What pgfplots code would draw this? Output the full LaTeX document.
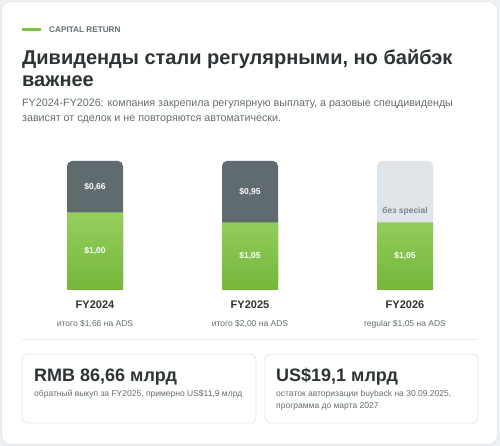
\documentclass[border=0pt]{standalone}
\usepackage{pgfplots}
\pgfplotsset{compat=1.18}
\usepackage{pgfplotstable}
\usepackage{fontspec}
\setmainfont{Liberation Sans}
\definecolor{pagebg}{HTML}{EEF1F3}
\definecolor{cardborder}{HTML}{E3E7EA}
\definecolor{titlec}{HTML}{2D3436}
\definecolor{subc}{HTML}{636E72}
\definecolor{accent}{HTML}{7DC242}
\definecolor{gtop}{HTML}{95D05E}
\definecolor{gbot}{HTML}{76B63A}
\definecolor{darkbar}{HTML}{5F6B6F}
\definecolor{lightbar}{HTML}{DFE5E9}
\definecolor{lighttext}{HTML}{7B858A}
\definecolor{sepc}{HTML}{EAEDEF}

\pgfplotstableread[col sep=semicolon]{
x;reg;spec;scale;reglab;speclab
0;1.00;0.66;1.66;\$1,00;\$0,66
1;1.05;0.95;2.00;\$1,05;\$0,95
2;1.05;0.95;2.00;\$1,05;-
}\divdata

\begin{document}
\begin{tikzpicture}[x=1pt,y=1pt]
\fill[pagebg] (0,0) rectangle (500,446);
\filldraw[fill=white, draw=cardborder, line width=0.8pt, rounded corners=9pt] (1.5,1.5) rectangle (497.5,444.5);
\draw[accent, line width=2.2pt] (22,416.5) -- (41,416.5);
\node[anchor=west, inner sep=0pt, text=subc, font=\fontsize{8.2}{10}\selectfont\bfseries] at (49,416.5) {CAPITAL RETURN};
\node[anchor=base west, inner sep=0pt, align=left, text=titlec, font=\fontsize{20}{22}\selectfont\bfseries] at (22,359)
  {Дивиденды стали регулярными, но байбэк\\важнее};
\node[anchor=base west, inner sep=0pt, align=left, text=subc, font=\fontsize{10.7}{15}\selectfont] at (22,324)
  {FY2024-FY2026: компания закрепила регулярную выплату, а разовые спецдивиденды\\зависят от сделок и не повторяются автоматически.};

\begin{axis}[
  at={(17.5pt,156pt)}, anchor=south west,
  scale only axis, width=465pt, height=129pt,
  xmin=-0.5, xmax=2.5, ymin=0, ymax=100,
  axis line style={draw=none}, major tick length=0pt,
  ytick=\empty, xtick={0,1,2},
  xticklabels={
    {FY2024\\[5pt]{\mdseries\fontsize{8.5}{10}\selectfont\color{subc}итого \$1,66 на ADS}},
    {FY2025\\[5pt]{\mdseries\fontsize{8.5}{10}\selectfont\color{subc}итого \$2,00 на ADS}},
    {FY2026\\[5pt]{\mdseries\fontsize{8.5}{10}\selectfont\color{subc}regular \$1,05 на ADS}}},
  xticklabel style={align=center, anchor=north, yshift=-10.5pt, inner sep=0pt,
    font=\fontsize{11}{13}\selectfont\bfseries, text=titlec},
  clip=false,
  bar width=56pt,
]
% full bars (regular + special share)
\addplot[ybar, bar shift=0pt, fill=darkbar, draw=none, rounded corners=5pt,
  restrict x to domain=0:1]
  table[x=x, y expr=(\thisrow{reg}+\thisrow{spec})/\thisrow{scale}*100]{\divdata};
\addplot[ybar, bar shift=0pt, fill=lightbar, draw=none, rounded corners=5pt,
  restrict x to domain=2:2]
  table[x=x, y expr=(\thisrow{reg}+\thisrow{spec})/\thisrow{scale}*100]{\divdata};
% regular dividend share
\addplot[ybar, bar shift=0pt, draw=none, top color=gtop, bottom color=gbot]
  table[x=x, y expr=\thisrow{reg}/\thisrow{scale}*100]{\divdata};
% labels
\addplot[draw=none, mark=none, nodes near coords, point meta=explicit symbolic,
  nodes near coords style={anchor=center, text=white, font=\fontsize{8.5}{10}\selectfont\bfseries}]
  table[x=x, y expr=\thisrow{reg}/\thisrow{scale}*50, meta=reglab]{\divdata};
\addplot[draw=none, mark=none, nodes near coords, point meta=explicit symbolic,
  restrict x to domain=0:1,
  nodes near coords style={anchor=center, text=white, font=\fontsize{8.5}{10}\selectfont\bfseries}]
  table[x=x, y expr=(\thisrow{reg}+\thisrow{spec}/2)/\thisrow{scale}*100, meta=speclab]{\divdata};
\addplot[draw=none, mark=none, nodes near coords, point meta=explicit symbolic,
  nodes near coords style={anchor=center, text=lighttext, font=\fontsize{8.5}{10}\selectfont\bfseries}]
  coordinates {(2,60.7) [без special]};
\end{axis}

\draw[sepc, line width=0.8pt] (22,106.5) -- (478,106.5);
\filldraw[fill=white, draw=cardborder, line width=0.8pt, rounded corners=6pt] (22,23) rectangle (256,92);
\filldraw[fill=white, draw=cardborder, line width=0.8pt, rounded corners=6pt] (265,23) rectangle (478,92);
\node[anchor=base west, inner sep=0pt, text=titlec, font=\fontsize{18}{20}\selectfont\bfseries] at (34,64.5) {RMB 86,66 млрд};
\node[anchor=base west, inner sep=0pt, text=subc, font=\fontsize{8.5}{12}\selectfont] at (34,49) {обратный выкуп за FY2025, примерно US\$11,9 млрд};
\node[anchor=base west, inner sep=0pt, text=titlec, font=\fontsize{18}{20}\selectfont\bfseries] at (276,64.5) {US\$19,1 млрд};
\node[anchor=base west, inner sep=0pt, align=left, text=subc, font=\fontsize{8.5}{12}\selectfont] at (276,37) {остаток авторизации buyback на 30.09.2025,\\программа до марта 2027};
\end{tikzpicture}
\end{document}
